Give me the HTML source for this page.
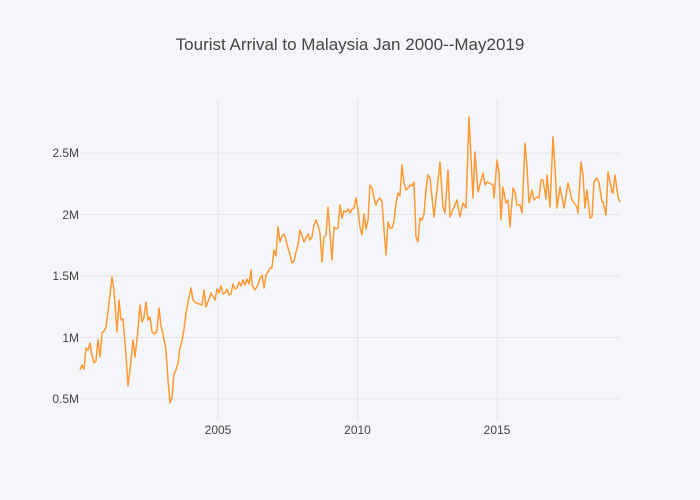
<!DOCTYPE html>
<html><head><meta charset="utf-8"><style>
html,body{margin:0;padding:0;background:#f5f6f9;}
svg{display:block;font-family:"Liberation Sans",sans-serif;}
</style></head><body>
<svg width="700" height="500" xmlns="http://www.w3.org/2000/svg">
<rect width="700" height="500" fill="#f5f6f9"/>
<g stroke="#e3e5eb" stroke-width="1">
<line x1="80" x2="620" y1="399" y2="399"/>
<line x1="80" x2="620" y1="337.5" y2="337.5"/>
<line x1="80" x2="620" y1="276" y2="276"/>
<line x1="80" x2="620" y1="214.5" y2="214.5"/>
<line x1="80" x2="620" y1="153" y2="153"/>
<line x1="218" x2="218" y1="100" y2="420"/>
<line x1="357.5" x2="357.5" y1="100" y2="420"/>
<line x1="497" x2="497" y1="100" y2="420"/>
</g>
<text x="350" y="50" text-anchor="middle" font-size="17" fill="#444">Tourist Arrival to Malaysia Jan 2000--May2019</text>
<g font-size="12" fill="#444" text-anchor="end">
<text x="79" y="403">0.5M</text>
<text x="79" y="342">1M</text>
<text x="79" y="280">1.5M</text>
<text x="79" y="219">2M</text>
<text x="79" y="157">2.5M</text>
</g>
<g font-size="12" fill="#444" text-anchor="middle">
<text x="218" y="434">2005</text>
<text x="357.5" y="434">2010</text>
<text x="497" y="434">2015</text>
</g>
<polyline fill="none" stroke="#ff9933" stroke-width="1.5" stroke-linejoin="round" points="80,370 82,365 84,369 86,348 88,350 90,343 92,356 94,363 96,361 98,340 100,357 102,333 104,331 106,327 108,312 112,277 114,290 117,332 119,300 121,320 123,319 126,355 128,386 130,370 133,340 135,357 138,330 140,305 142,322 144,317 146,302 148,320 150,317 152,332 155,334 157,330 159,308 161,326 163,334 166,350 168,380 170,403 172,397 174,374 176,370 178,363 180,348 182,341 184,329 186,313 189,297 191,288 193,300 196,303 199,304 202,305 204,290 206,307 209,299 211,293 213,296 215,300 217,289 219,293 221,286 223,294 225,293 227,289 229,295 231,294 233,284 235,289 237,288 239,282 241,286 243,280 245,285 247,279 249,284 251,270 252,285 255,290 258,285 260,278 262,275 264,288 266,275 268,272 270,268 272,268 274,250 276,256 278,227 280,242 282,236 284,234 286,240 288,248 290,255 292,263 294,261 296,252 298,245 300,230 302,236 304,242 306,238 308,234 310,240 312,237 314,225 316,220 318,225 320,233 322,262 324,237 326,235 328,207 330,234 332,260 334,227 336,229 338,228 340,205 342,218 344,211 346,212 348,209 350,213 352,209 354,208 356,198 358,210 360,227 362,235 364,214 366,229 368,220 370,185 372,188 374,198 376,205 378,200 380,198 382,202 384,230 386,255 388,222 390,228 392,228 394,222 396,203 398,193 400,196 402,165 404,183 406,190 408,188 410,185 412,186 414,182 416,237 418,242 420,218 422,220 424,214 426,190 428,175 430,178 434,217 437,190 440,162 443,207 445,213 448,170 450,217 457,200 460,217 463,203 466,208 469,117 473,198 475,152 478,192 483,173 485,185 487,182 493,185 494,198 497,160 499,173 501,220 503,187 506,203 508,200 510,227 513,188 515,192 517,205 520,205 522,213 525,143 527,167 529,203 532,190 534,200 537,197 539,198 541,180 543,180 546,199 547,175 550,207 553,137 555,168 557,208 560,187 564,208 568,183 572,200 577,207 578,213 581,162 583,175 585,208 587,190 590,218 592,217 594,182 597,178 599,183 602,202 603,202 606,215 608,172 612,192 613,193 615,175 618,197 620,202"/>
</svg>
</body></html>
